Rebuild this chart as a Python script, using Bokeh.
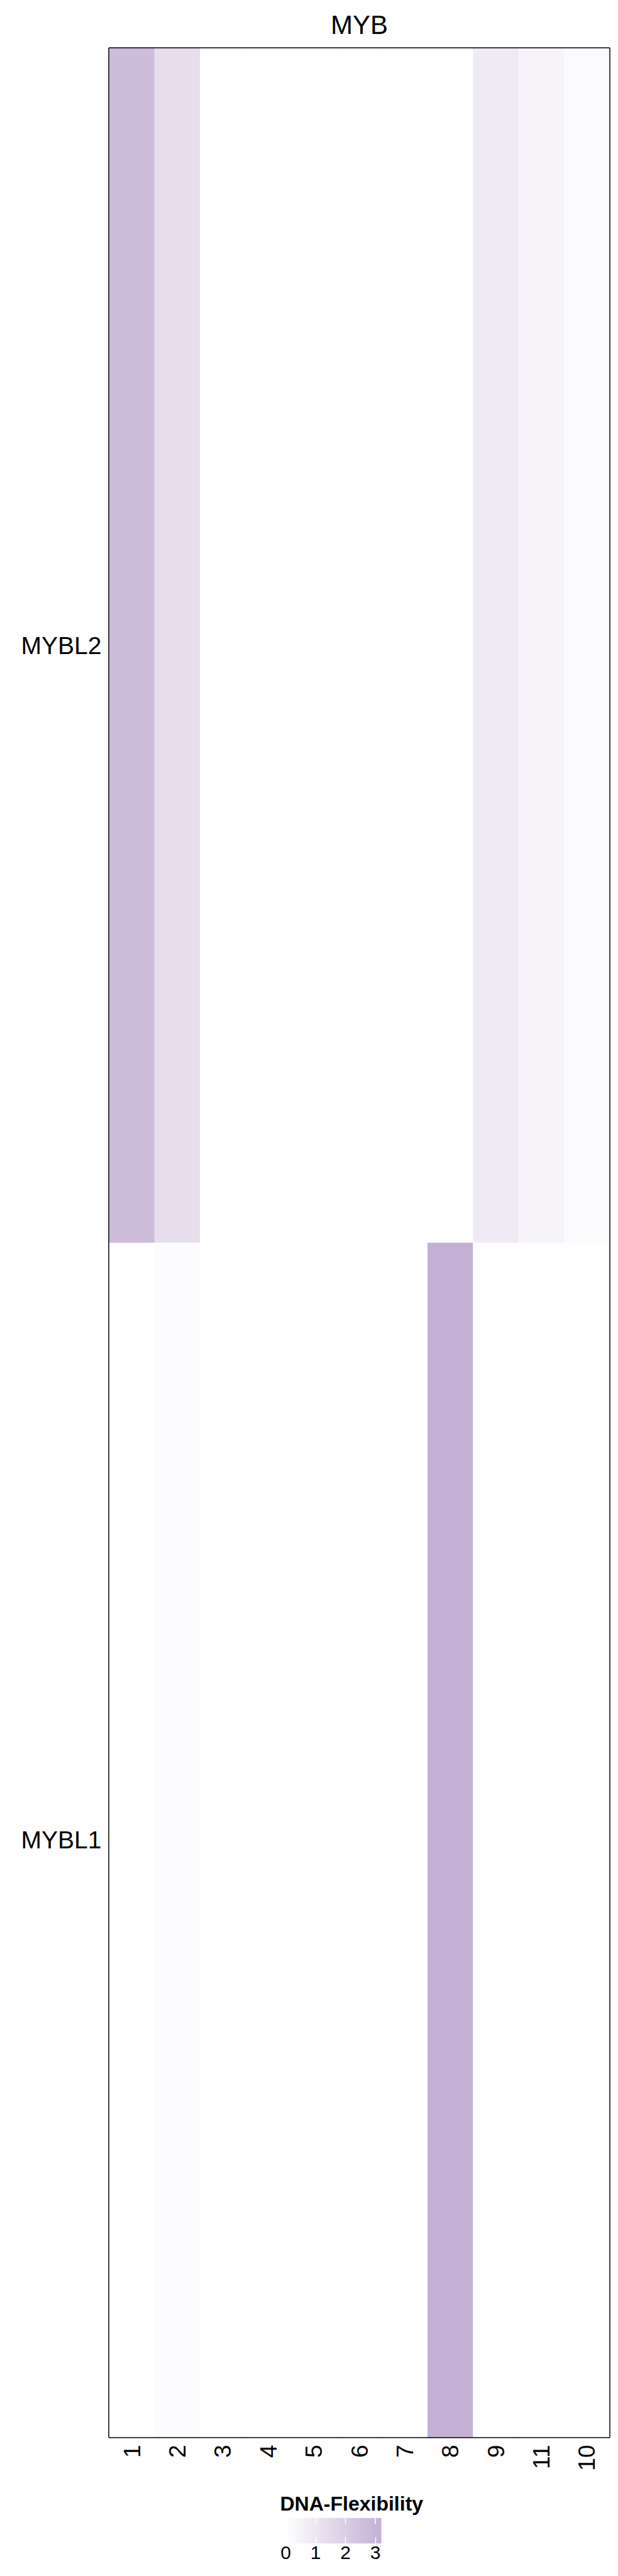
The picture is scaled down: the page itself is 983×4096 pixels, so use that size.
import math
import numpy as np
from bokeh.plotting import figure
from bokeh.layouts import column
from bokeh.models import LinearColorMapper, FixedTicker, ColumnDataSource, Range1d
from bokeh.transform import transform
from bokeh.embed import file_html
from bokeh.resources import INLINE

# ---- data ----
positions = ["1", "2", "3", "4", "5", "6", "7", "8", "9", "11", "10"]
genes = ["MYBL1", "MYBL2"]  # bottom to top
mybl2_vals = [2.7, 1.36, 0.0, 0.0, 0.0, 0.0, 0.0, 0.0, 0.87, 0.43, 0.2]
mybl1_vals = [0.0, 0.16, 0.03, 0.03, 0.03, 0.03, 0.03, 3.2, 0.04, 0.04, 0.04]
legend_ticks = [0, 1, 2, 3]
legend_title = "DNA-Flexibility"

xs, ys, vs = [], [], []
for g, vals in (("MYBL2", mybl2_vals), ("MYBL1", mybl1_vals)):
    for pos, v in zip(positions, vals):
        xs.append(pos)
        ys.append(g)
        vs.append(v)
src = ColumnDataSource(dict(x=xs, y=ys, v=vs))

vmax = max(mybl1_vals + mybl2_vals)
vmin = min(mybl1_vals + mybl2_vals)

# white -> purple gradient palette (style)
lo = (255, 255, 255)
hi = (196, 176, 213)
n = 256
palette = ["#%02x%02x%02x" % tuple(round(lo[k] + (hi[k] - lo[k]) * i / (n - 1)) for k in range(3)) for i in range(n)]
mapper = LinearColorMapper(palette=palette, low=vmin, high=vmax)

FONT = "Liberation Sans"
FRAME_L, FRAME_W, FRAME_R = 173, 796, 6

# ---- main heatmap ----
p = figure(x_range=positions, y_range=genes, frame_width=FRAME_W, frame_height=3799,
           min_border_left=FRAME_L, min_border_right=FRAME_R, min_border_top=76, min_border_bottom=63,
           output_backend="svg", toolbar_location=None, title="MYB")

p.rect(x="x", y="y", width=1, height=1, source=src,
       fill_color=transform("v", mapper), line_color=None)

p.title.align = "center"
p.title.offset = -78
p.title.text_font = FONT
p.title.text_font_size = "42px"
p.title.text_font_style = "normal"
p.title.text_color = "black"
p.title.standoff = 27

p.outline_line_color = "black"
p.outline_line_width = 2.5
p.outline_line_alpha = 1.0
p.grid.visible = False
p.background_fill_color = "white"
p.border_fill_color = "white"

for ax in (p.xaxis[0], p.yaxis[0]):
    ax.axis_line_color = None
    ax.major_tick_line_color = None
    ax.minor_tick_line_color = None
    ax.major_tick_in = 0
    ax.major_tick_out = 0
    ax.major_label_text_font = FONT
    ax.major_label_text_color = "black"

p.yaxis.major_label_text_font_size = "39px"
p.yaxis.major_label_standoff = 12
p.xaxis.major_label_text_font_size = "37px"
p.xaxis.major_label_orientation = math.pi / 2
p.xaxis.major_label_standoff = 12

# ---- colour-bar legend (same frame as heatmap; bar drawn inside it) ----
BAR_L, BAR_W, BAR_H, TICK = 454, 152, 41, 10
ppu = BAR_W / (vmax - vmin)
x0 = vmin - (BAR_L - FRAME_L) / ppu
x1 = vmax + (FRAME_L + FRAME_W - BAR_L - BAR_W) / ppu
leg = figure(x_range=Range1d(x0, x1), y_range=Range1d(0, 1),
             frame_width=FRAME_W, frame_height=BAR_H,
             min_border_left=FRAME_L, min_border_right=FRAME_R, min_border_top=65, min_border_bottom=44,
             output_backend="svg", toolbar_location=None, title=legend_title)
ramp = np.linspace(vmin, vmax, 256).reshape(1, -1)
leg.image(image=[ramp], x=vmin, y=0, dw=vmax - vmin, dh=1, color_mapper=mapper)
leg.segment(x0=legend_ticks, y0=[1 - TICK / BAR_H] * len(legend_ticks),
            x1=legend_ticks, y1=[1] * len(legend_ticks), line_color="white", line_width=1.5)
leg.outline_line_color = None
leg.grid.visible = False
leg.yaxis.visible = False
leg.border_fill_color = "white"
leg.background_fill_color = "white"

leg.title.align = "left"
leg.title.offset = BAR_L - FRAME_L - 9
leg.title.text_font = FONT
leg.title.text_font_size = "32px"
leg.title.text_font_style = "bold"
leg.title.text_color = "black"
leg.title.standoff = 10

bx = leg.xaxis[0]
bx.ticker = FixedTicker(ticks=legend_ticks)
bx.axis_line_color = None
bx.major_tick_line_color = "white"
bx.major_tick_line_width = 1.5
bx.major_tick_in = TICK
bx.major_tick_out = 0
bx.minor_tick_line_color = None
bx.major_label_text_font = FONT
bx.major_label_text_font_size = "30px"
bx.major_label_text_color = "black"
bx.major_label_standoff = 4

layout = column(p, leg, spacing=0)
open("out.html", "w").write(file_html(layout, INLINE))
